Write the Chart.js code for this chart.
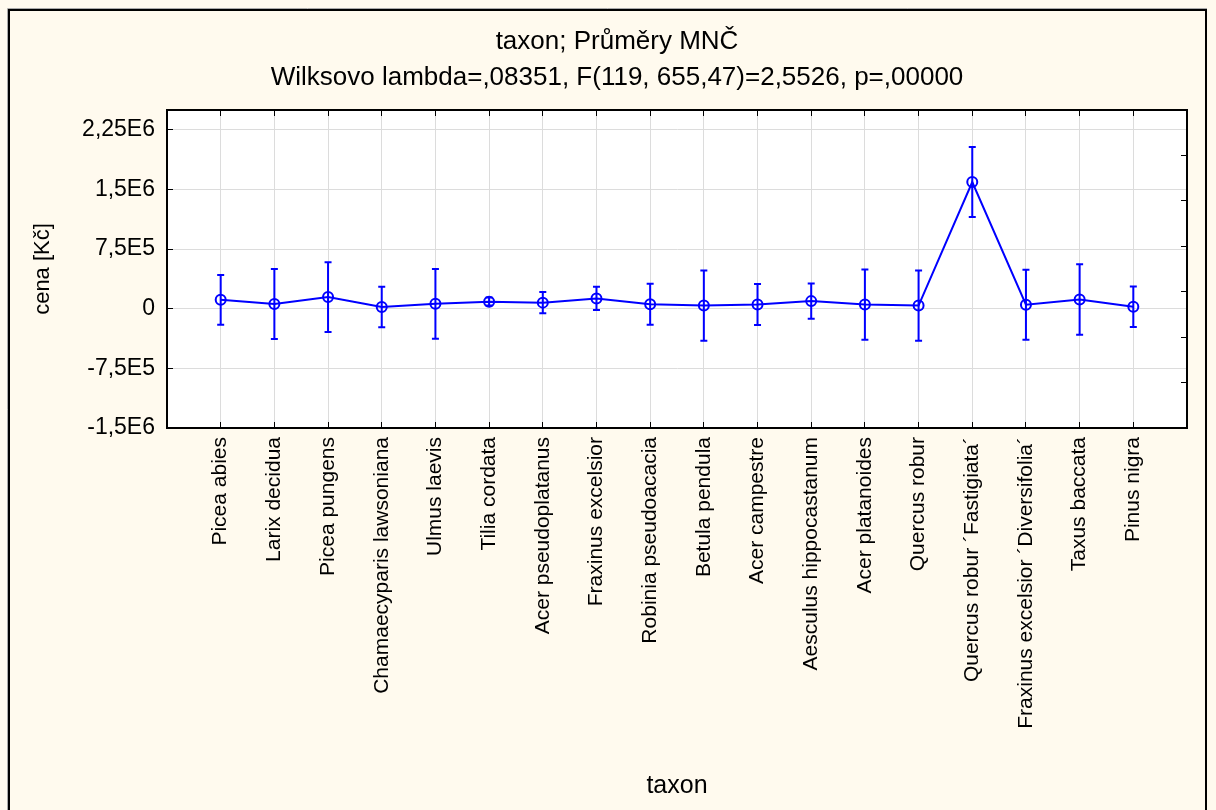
<!DOCTYPE html>
<html lang="cs">
<head>
<meta charset="UTF-8">
<title>taxon; Průměry MNČ</title>
<script src="https://cdn.jsdelivr.net/npm/chart.js@4.4.1/dist/chart.umd.min.js"></script>
<style>
  html, body { margin: 0; padding: 0; background: #fffaee; }
  #wrap { width: 1216px; height: 810px; }
</style>
</head>
<body>
<div id="wrap"><canvas id="chart" width="1216" height="810"></canvas></div>
<script>
const categories = [
  'Picea abies', 'Larix decidua', 'Picea pungens', 'Chamaecyparis lawsoniana',
  'Ulmus laevis', 'Tilia cordata', 'Acer pseudoplatanus', 'Fraxinus excelsior',
  'Robinia pseudoacacia', 'Betula pendula', 'Acer campestre', 'Aesculus hippocastanum',
  'Acer platanoides', 'Quercus robur', 'Quercus robur \u00b4Fastigiata\u00b4',
  'Fraxinus excelsior \u00b4Diversifolia\u00b4', 'Taxus baccata', 'Pinus nigra'
];
// means and confidence limits (Kč)
const means = [113000, 60000, 147000, 21000, 62000, 88000, 77000, 130000, 56000,
               40000, 53000, 96000, 52000, 40000, 1594000, 50000, 117000, 25000];
const lower = [-200000, -380000, -292000, -234000, -376000, 40000, -56000, -16000, -200000,
               -401000, -204000, -125000, -389000, -401000, 1153000, -389000, -326000, -230000];
const upper = [426000, 501000, 585000, 276000, 501000, 140000, 210000, 276000, 313000,
               480000, 310000, 317000, 493000, 480000, 2035000, 489000, 560000, 280000];
const yTicks = [-1500000, -750000, 0, 750000, 1500000, 2250000];
const yTickLabels = ['-1,5E6', '-7,5E5', '0', '7,5E5', '1,5E6', '2,25E6'];

const FONT = '"Liberation Sans", Arial, sans-serif';
const BLUE = '#0000ff';

const background = {
  id: 'background',
  beforeDraw(chart) {
    const { ctx, chartArea: a } = chart;
    ctx.save();
    ctx.fillStyle = '#fffaee';
    ctx.fillRect(0, 0, chart.width, chart.height);
    ctx.fillStyle = '#ffffff';
    ctx.fillRect(a.left, a.top, a.right - a.left, a.bottom - a.top);
    ctx.restore();
  }
};

const frame = {
  id: 'frame',
  afterDraw(chart) {
    const ctx = chart.ctx;
    ctx.save();
    ctx.strokeStyle = '#aaaaaa';
    ctx.lineWidth = 1;
    ctx.beginPath();
    ctx.moveTo(7.5, chart.height);
    ctx.lineTo(7.5, 8.5);
    ctx.lineTo(1207, 8.5);
    ctx.stroke();
    ctx.strokeStyle = '#000000';
    ctx.lineWidth = 2;
    ctx.beginPath();
    ctx.moveTo(9, chart.height);
    ctx.lineTo(9, 10);
    ctx.lineTo(1206, 10);
    ctx.lineTo(1206, chart.height);
    ctx.stroke();
    ctx.restore();
  }
};

const errorBars = {
  id: 'errorBars',
  afterDatasetsDraw(chart) {
    const { ctx, scales: { x, y } } = chart;
    ctx.save();
    ctx.strokeStyle = BLUE;
    ctx.lineWidth = 2;
    for (let i = 0; i < categories.length; i++) {
      const px = x.getPixelForValue(i + 1);
      const top = y.getPixelForValue(upper[i]);
      const bot = y.getPixelForValue(lower[i]);
      ctx.beginPath();
      ctx.moveTo(px, top);
      ctx.lineTo(px, bot);
      ctx.moveTo(px - 3.5, top);
      ctx.lineTo(px + 3.5, top);
      ctx.moveTo(px - 3.5, bot);
      ctx.lineTo(px + 3.5, bot);
      ctx.stroke();
    }
    ctx.restore();
  }
};

const catTicks = scale => { scale.ticks = categories.map((c, i) => ({ value: i + 1 })); };
const gridOpts = { color: '#dcdcdc', tickColor: '#000000', tickLength: -6, lineWidth: 1 };
const borderOpts = { color: '#000000', width: 2 };

new Chart(document.getElementById('chart'), {
  type: 'line',
  data: {
    datasets: [{
      data: means.map((m, i) => ({ x: i + 1, y: m })),
      borderColor: BLUE,
      borderWidth: 2,
      tension: 0,
      pointStyle: 'circle',
      pointRadius: 5,
      pointBorderWidth: 2,
      pointBorderColor: BLUE,
      pointBackgroundColor: 'rgba(0,0,0,0)'
    }]
  },
  options: {
    responsive: false,
    animation: false,
    devicePixelRatio: 1,
    layout: { padding: { left: 18, right: 0, top: 0, bottom: 0 } },
    plugins: {
      legend: { display: false },
      tooltip: { enabled: false },
      title: {
        display: true,
        text: 'taxon; Průměry MNČ',
        color: '#000',
        font: { family: FONT, size: 26, weight: 'normal' },
        padding: { top: 26, bottom: 5 }
      },
      subtitle: {
        display: true,
        text: 'Wilksovo lambda=,08351, F(119, 655,47)=2,5526, p=,00000',
        color: '#000',
        font: { family: FONT, size: 26, weight: 'normal' },
        padding: { top: 0.2, bottom: 16.4 }
      }
    },
    scales: {
      x: {
        type: 'linear',
        position: 'bottom',
        min: 0,
        max: 19,
        afterBuildTicks: catTicks,
        afterFit: s => { s.height = 382; },
        ticks: {
          autoSkip: false,
          minRotation: 90,
          maxRotation: 90,
          padding: 15,
          color: '#000',
          font: { family: FONT, size: 21 },
          callback: v => categories[v - 1]
        },
        grid: gridOpts,
        border: borderOpts,
        title: {
          display: true,
          text: 'taxon',
          color: '#000',
          font: { family: FONT, size: 25 },
          padding: { top: 0, bottom: 9 }
        }
      },
      x2: {
        type: 'linear',
        position: 'top',
        min: 0,
        max: 19,
        afterBuildTicks: catTicks,
        afterFit: s => { s.height = 0; },
        ticks: { display: false },
        grid: Object.assign({}, gridOpts, { drawOnChartArea: false }),
        border: borderOpts
      },
      y: {
        type: 'linear',
        position: 'left',
        min: -1500000,
        max: 2500000,
        afterBuildTicks: s => { s.ticks = yTicks.map(v => ({ value: v })); },
        afterFit: s => { s.width = 149; },
        ticks: {
          padding: 18,
          color: '#000',
          font: { family: FONT, size: 23 },
          callback: v => yTickLabels[yTicks.indexOf(v)]
        },
        grid: gridOpts,
        border: borderOpts,
        title: {
          display: true,
          text: 'cena [Kč]',
          color: '#000',
          font: { family: FONT, size: 22 },
          padding: { top: 12, bottom: 0 }
        }
      },
      y2: {
        type: 'linear',
        position: 'right',
        min: 0,
        max: 7,
        afterFit: s => { s.width = 29; },
        ticks: { display: false, stepSize: 1 },
        grid: Object.assign({}, gridOpts, { drawOnChartArea: false }),
        border: borderOpts
      }
    }
  },
  plugins: [background, errorBars, frame]
});
</script>
</body>
</html>
